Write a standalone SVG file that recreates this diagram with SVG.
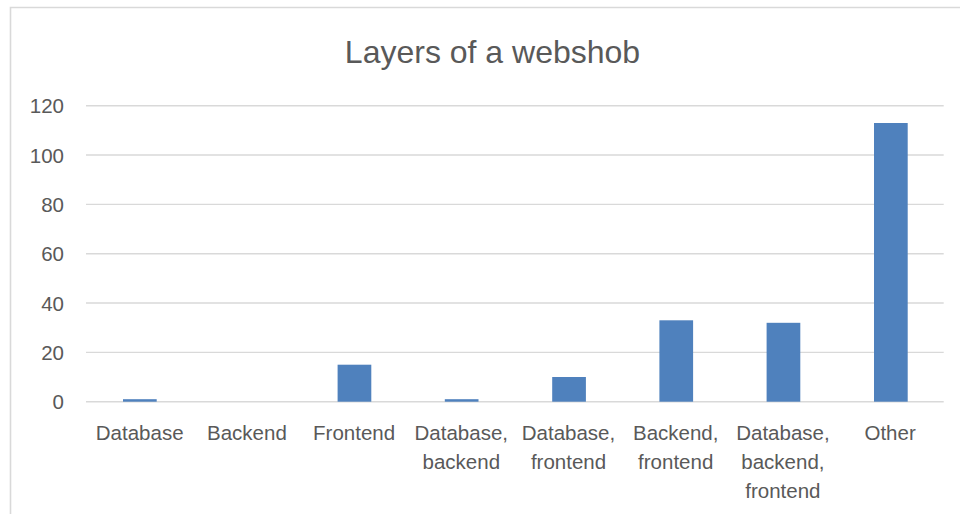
<svg xmlns="http://www.w3.org/2000/svg" width="960" height="514" viewBox="0 0 960 514">
<style>
text{font-family:"Liberation Sans",Arial,sans-serif;fill:#595959}
.t{font-size:32px}
.ax{font-size:20.5px}
.yl{text-anchor:end}
.xl{text-anchor:middle}
.g{stroke:#D9D9D9;stroke-width:1.4}
.bar{fill:#4F81BD}
</style>
<rect x="0" y="0" width="960" height="514" fill="#fff"/>
<path d="M10.5 514 V7.5 H960" fill="none" stroke="#D9D9D9" stroke-width="1.6"/>
<text class="t" x="492.5" y="63" text-anchor="middle">Layers of a webshob</text>
<g id="grid">
<line class="g" x1="86" y1="105.7" x2="943.7" y2="105.7"/>
<line class="g" x1="86" y1="155" x2="943.7" y2="155"/>
<line class="g" x1="86" y1="204.4" x2="943.7" y2="204.4"/>
<line class="g" x1="86" y1="253.7" x2="943.7" y2="253.7"/>
<line class="g" x1="86" y1="303" x2="943.7" y2="303"/>
<line class="g" x1="86" y1="352.4" x2="943.7" y2="352.4"/>
<line class="g" x1="86" y1="401.7" x2="943.7" y2="401.7"/>
</g>
<g id="yaxis" class="ax">
<text class="yl ax" x="64" y="113.3">120</text>
<text class="yl ax" x="64" y="162.6">100</text>
<text class="yl ax" x="64" y="212">80</text>
<text class="yl ax" x="64" y="261.3">60</text>
<text class="yl ax" x="64" y="310.6">40</text>
<text class="yl ax" x="64" y="360">20</text>
<text class="yl ax" x="64" y="409.3">0</text>
</g>
<g id="bars">
<rect id="bar-database" class="bar" x="123" y="399.2" width="33.7" height="2.5"/>
<rect id="bar-frontend" class="bar" x="337.6" y="364.7" width="33.7" height="37"/>
<rect id="bar-database-backend" class="bar" x="444.8" y="399.2" width="33.7" height="2.5"/>
<rect id="bar-database-frontend" class="bar" x="552.2" y="377" width="33.7" height="24.7"/>
<rect id="bar-backend-frontend" class="bar" x="659.4" y="320.3" width="33.7" height="81.4"/>
<rect id="bar-database-backend-frontend" class="bar" x="766.6" y="322.8" width="33.7" height="78.9"/>
<rect id="bar-other" class="bar" x="874" y="123" width="33.7" height="278.7"/>
</g>
<g id="xaxis">
<text class="xl ax" x="139.7" y="440">Database</text>
<text class="xl ax" x="246.9" y="440">Backend</text>
<text class="xl ax" x="354.1" y="440">Frontend</text>
<text class="xl ax" x="461.3" y="440">Database,</text>
<text class="xl ax" x="461.3" y="469.3">backend</text>
<text class="xl ax" x="568.5" y="440">Database,</text>
<text class="xl ax" x="568.5" y="469.3">frontend</text>
<text class="xl ax" x="675.7" y="440">Backend,</text>
<text class="xl ax" x="675.7" y="469.3">frontend</text>
<text class="xl ax" x="782.9" y="440">Database,</text>
<text class="xl ax" x="782.9" y="469.3">backend,</text>
<text class="xl ax" x="782.9" y="498.3">frontend</text>
<text class="xl ax" x="890.1" y="440">Other</text>
</g>
</svg>
